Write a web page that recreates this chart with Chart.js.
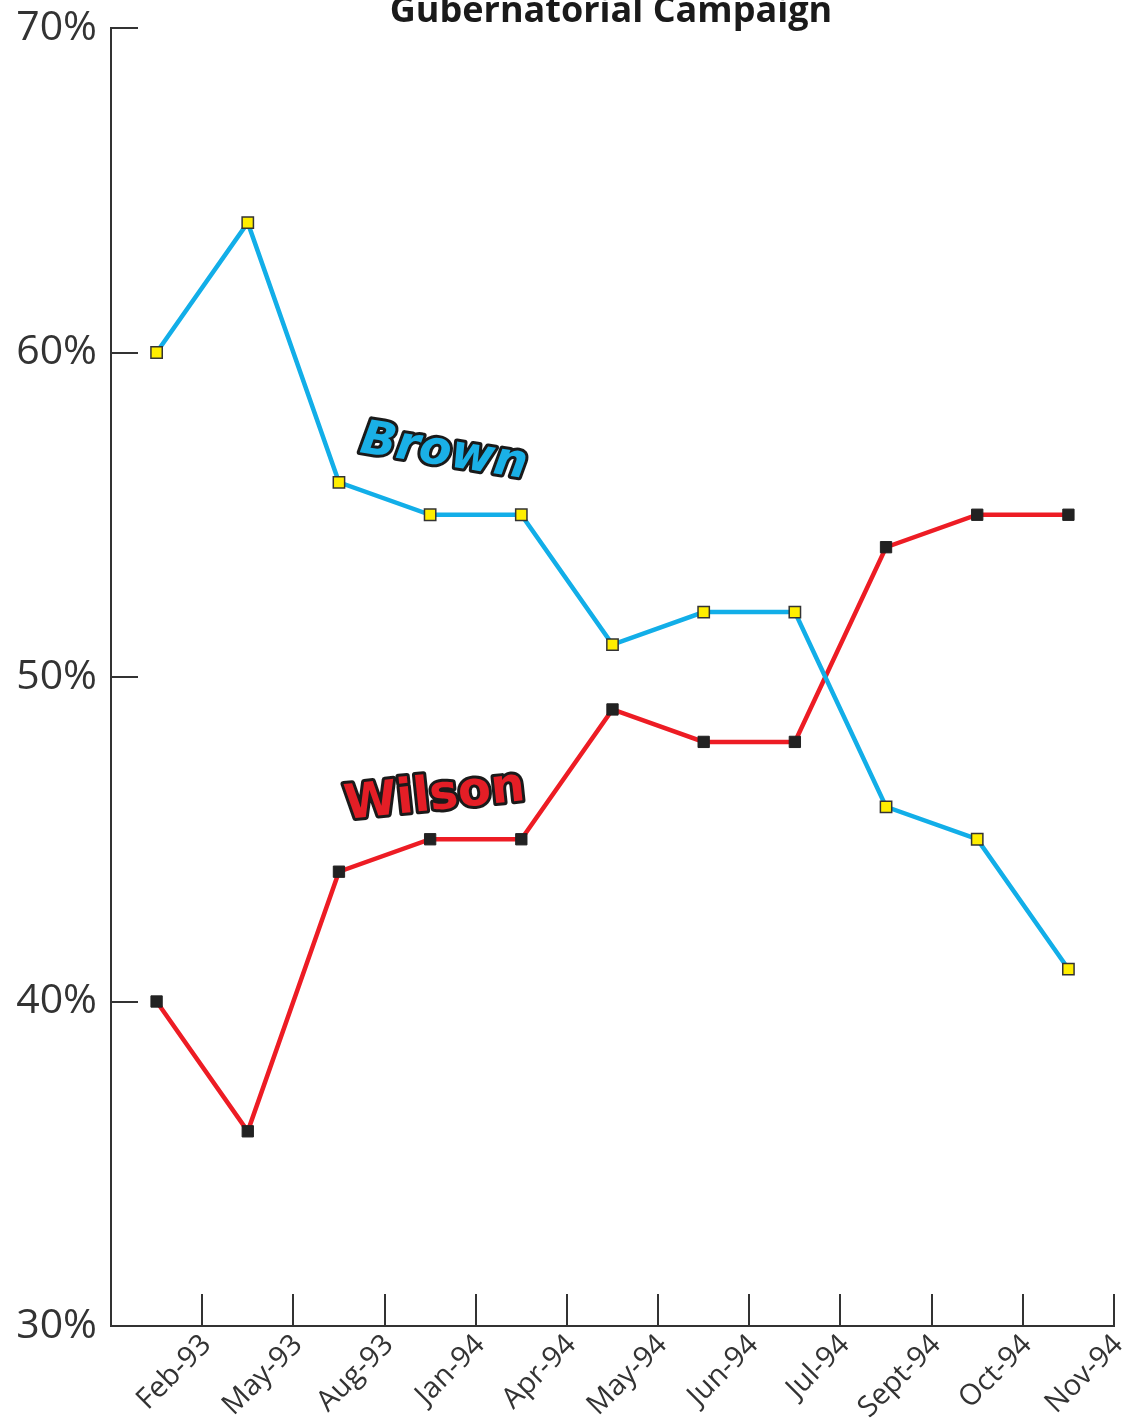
<!DOCTYPE html>
<html lang="en">
  <head>
    <meta charset="UTF-8" />
    <title>Gubernatorial Campaign</title>
    <script src="https://cdn.jsdelivr.net/npm/chart.js"></script>
    <style>
      html, body { margin: 0; padding: 0; background: #fff; overflow: hidden; }
      #wrap { width: 1127px; height: 1426px; position: relative; }
    </style>
  </head>
  <body>
    <div id="wrap"><canvas id="poll-chart"></canvas></div>
    <script>
      const months = ["Feb-93", "May-93", "Aug-93", "Jan-94", "Apr-94", "May-94",
                      "Jun-94", "Jul-94", "Sept-94", "Oct-94", "Nov-94"];
      const brown = [60, 64, 56, 55, 55, 51, 52, 52, 46, 45, 41];
      const wilson = [40, 36, 44, 45, 45, 49, 48, 48, 54, 55, 55];
      const yTicks = [30, 40, 50, 60, 70];

      const axisColor = "#333";

      // inward tick marks, title (cut at the top) and the two name labels
      const extras = {
        id: "extras",
        afterDatasetsDraw(chart) {
          const c = chart.ctx;
          const x = chart.scales.x, y = chart.scales.y;
          c.save();
          c.strokeStyle = axisColor;
          c.lineWidth = 2;
          c.beginPath();
          yTicks.forEach(function (v) {
            if (v === 30) return;
            const py = Math.round(y.getPixelForValue(v));
            c.moveTo(chart.chartArea.left, py);
            c.lineTo(chart.chartArea.left + 27, py);
          });
          for (let i = 0; i < months.length; i++) {
            let px = i < months.length - 1
              ? (x.getPixelForValue(i) + x.getPixelForValue(i + 1)) / 2
              : x.right;
            px = Math.round(px);
            c.moveTo(px, y.bottom);
            c.lineTo(px, y.bottom - 32);
          }
          c.stroke();

          c.fillStyle = "#1a1a1a";
          c.font = "bold 36px 'Open Sans'";
          c.textAlign = "center";
          c.textBaseline = "alphabetic";
          c.fillText("Gubernatorial Campaign", 611, 22);

          function tag(text, xi, yv, angle, fill, font) {
            c.save();
            c.translate(x.getPixelForValue(xi), y.getPixelForValue(yv));
            c.rotate(angle * Math.PI / 180);
            c.font = font;
            c.textAlign = "center";
            c.textBaseline = "middle";
            c.lineJoin = "round";
            c.lineWidth = 6;
            c.strokeStyle = "#1a1a1a";
            c.strokeText(text, 0, 0);
            c.fillStyle = fill;
            c.fillText(text, 0, 0);
            c.restore();
          }
          tag("Brown", 3.15, 56.9, 9, "#1ab0e6", "italic bold 47px 'DejaVu Sans'");
          tag("Wilson", 3.05, 46.3, -6, "#e41e26", "bold 48px 'DejaVu Sans'");
          c.restore();
        }
      };

      new Chart(document.getElementById("poll-chart"), {
        type: "line",
        data: {
          labels: months,
          datasets: [
            {
              label: "Brown",
              data: brown,
              borderColor: "#12aee8",
              borderWidth: 4.5,
              tension: 0,
              pointStyle: "rect",
              pointRadius: 8,
              pointBackgroundColor: "#ffee00",
              pointBorderColor: "#333",
              pointBorderWidth: 1.5
            },
            {
              label: "Wilson",
              data: wilson,
              borderColor: "#ed1c24",
              borderWidth: 4.5,
              tension: 0,
              pointStyle: "rect",
              pointRadius: 8,
              pointBackgroundColor: "#222",
              pointBorderColor: "#222",
              pointBorderWidth: 1
            }
          ]
        },
        options: {
          responsive: true,
          maintainAspectRatio: false,
          animation: false,
          layout: { padding: { top: 28, right: 13, left: 0, bottom: 0 } },
          plugins: { legend: { display: false }, tooltip: { enabled: false } },
          scales: {
            x: {
              offset: true,
              grid: { display: false, drawTicks: false },
              border: { display: true, color: axisColor, width: 2 },
              ticks: {
                autoSkip: false,
                minRotation: 45,
                maxRotation: 45,
                labelOffset: 50,
                padding: 2,
                color: "#333",
                font: { family: "'Open Sans'", size: 29 }
              },
              afterFit(s) {
                s.height = 100;
                s.paddingLeft = 0;
                s.paddingRight = 0;
              }
            },
            y: {
              min: 30,
              max: 70,
              grid: { display: false, drawTicks: false },
              border: { display: true, color: axisColor, width: 2 },
              afterBuildTicks(s) { s.ticks = yTicks.map(v => ({ value: v })); },
              ticks: {
                padding: 14,
                color: "#333",
                font: { family: "'Open Sans'", size: 41 },
                callback: v => v + "%"
              },
              afterFit(s) {
                s.width = 111;
                s.paddingTop = 0;
                s.paddingBottom = 0;
              }
            }
          }
        },
        plugins: [extras]
      });
    </script>
  </body>
</html>
